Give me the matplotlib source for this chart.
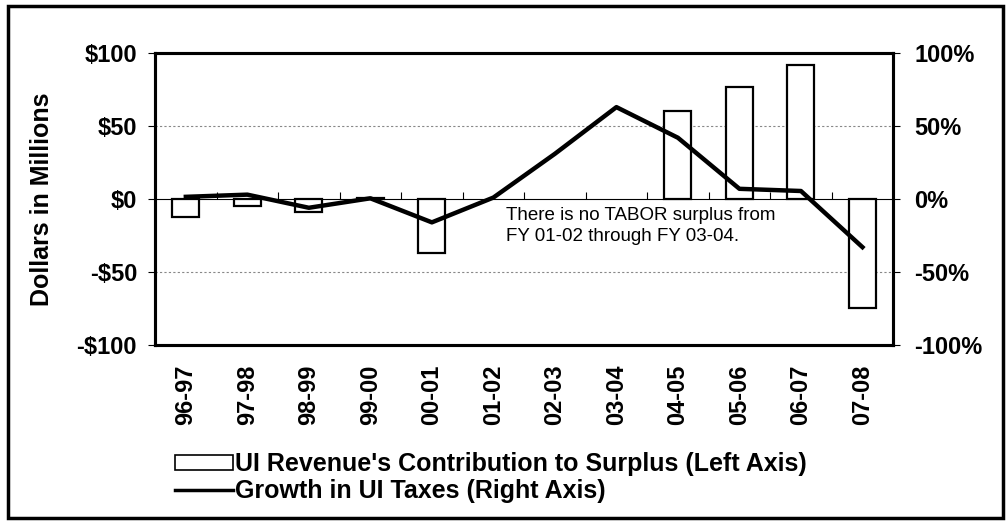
import numpy as np
import matplotlib
matplotlib.use('Agg')
import matplotlib.pyplot as plt
from matplotlib.patches import Rectangle
from matplotlib.lines import Line2D

plt.rcParams['font.family'] = ['Liberation Sans', 'DejaVu Sans']

# ===== data =====
years = ['96-97', '97-98', '98-99', '99-00', '00-01', '01-02',
         '02-03', '03-04', '04-05', '05-06', '06-07', '07-08']
# UI revenue's contribution to surplus, $ millions (nan = no surplus)
surplus = [-12, -5, -9, 1, -37, np.nan, np.nan, np.nan, 60, 77, 92, -75]
# growth in UI taxes, percent
growth = [1.5, 3, -6, 0.5, -16, 1, 31, 63, 42, 7, 5.5, -33]

x = np.arange(len(years))

fig = plt.figure(figsize=(10.07, 5.21), dpi=100)
ax = fig.add_axes([0.154, 0.338, 0.733, 0.560])
ax2 = ax.twinx()

# bars on left axis
ax.bar(x, surplus, width=0.44, color='white', edgecolor='black', linewidth=1.6, zorder=3)
ax.set_ylim(-100, 100)
ax.set_xlim(-0.5, len(years) - 0.5)
ax.set_yticks([-100, -50, 0, 50, 100])
ax.set_yticklabels(['-$100', '-$50', '$0', '$50', '$100'], fontsize=17, fontweight='bold')
ax.set_ylabel('Dollars in Millions', fontsize=18, fontweight='bold', labelpad=16)
for v in [-50, 50]:
    ax.axhline(v, color='#888888', lw=0.8, ls=(0, (2, 2)), zorder=1)
ax.set_xticks(x)
ax.set_xticklabels(years, rotation=90, fontsize=17, fontweight='bold')
ax.tick_params(axis='x', length=0, pad=14)
ax.tick_params(axis='y', length=5, width=0.8, pad=8)

# category axis crossing at zero, with small ticks between categories
zero_ax = ax.secondary_xaxis(0.5)
zero_ax.set_xticks(np.arange(len(years) + 1) - 0.5)
zero_ax.set_xticklabels([])
zero_ax.tick_params(axis='x', direction='out', length=5, width=0.8)
zero_ax.spines['bottom'].set_linestyle((0, (2, 1.5)))
zero_ax.spines['bottom'].set_linewidth(0.8)
zero_ax.spines['bottom'].set_color('#555555')

# line on right axis
ax2.plot(x, growth, color='black', lw=3.2, solid_joinstyle='round', zorder=4)
ax2.set_ylim(-100, 100)
ax2.set_yticks([-100, -50, 0, 50, 100])
ax2.set_yticklabels(['-100%', '-50%', '0%', '50%', '100%'], fontsize=17, fontweight='bold')
ax2.tick_params(axis='y', length=5, width=0.8, pad=10)

for a in (ax, ax2):
    for s in a.spines.values():
        s.set_linewidth(2.2)

ax.text(5.2, -5.5, 'There is no TABOR surplus from\nFY 01-02 through FY 03-04.',
        fontsize=13.5, va='top', ha='left', linespacing=1.3, zorder=5)

# legend below the chart
handles = [Rectangle((0, 0), 1, 1, facecolor='white', edgecolor='black', linewidth=1.2),
           Line2D([0], [0], color='black', lw=2.5)]
labels = ["UI Revenue's Contribution to Surplus (Left Axis)", 'Growth in UI Taxes (Right Axis)']
fig.legend(handles, labels, loc='upper left', bbox_to_anchor=(0.174, 0.132),
           frameon=False, prop={'size': 18, 'weight': 'bold'},
           handlelength=2.3, handleheight=0.55, handletextpad=0.1, labelspacing=0.1,
           borderaxespad=0, borderpad=0)

# outer frame around the whole figure
fig.patches.append(Rectangle((0.008, 0.006), 0.988, 0.982, transform=fig.transFigure,
                             fill=False, edgecolor='black', linewidth=2.5))

fig.savefig('out.png', dpi=100, facecolor='white')
